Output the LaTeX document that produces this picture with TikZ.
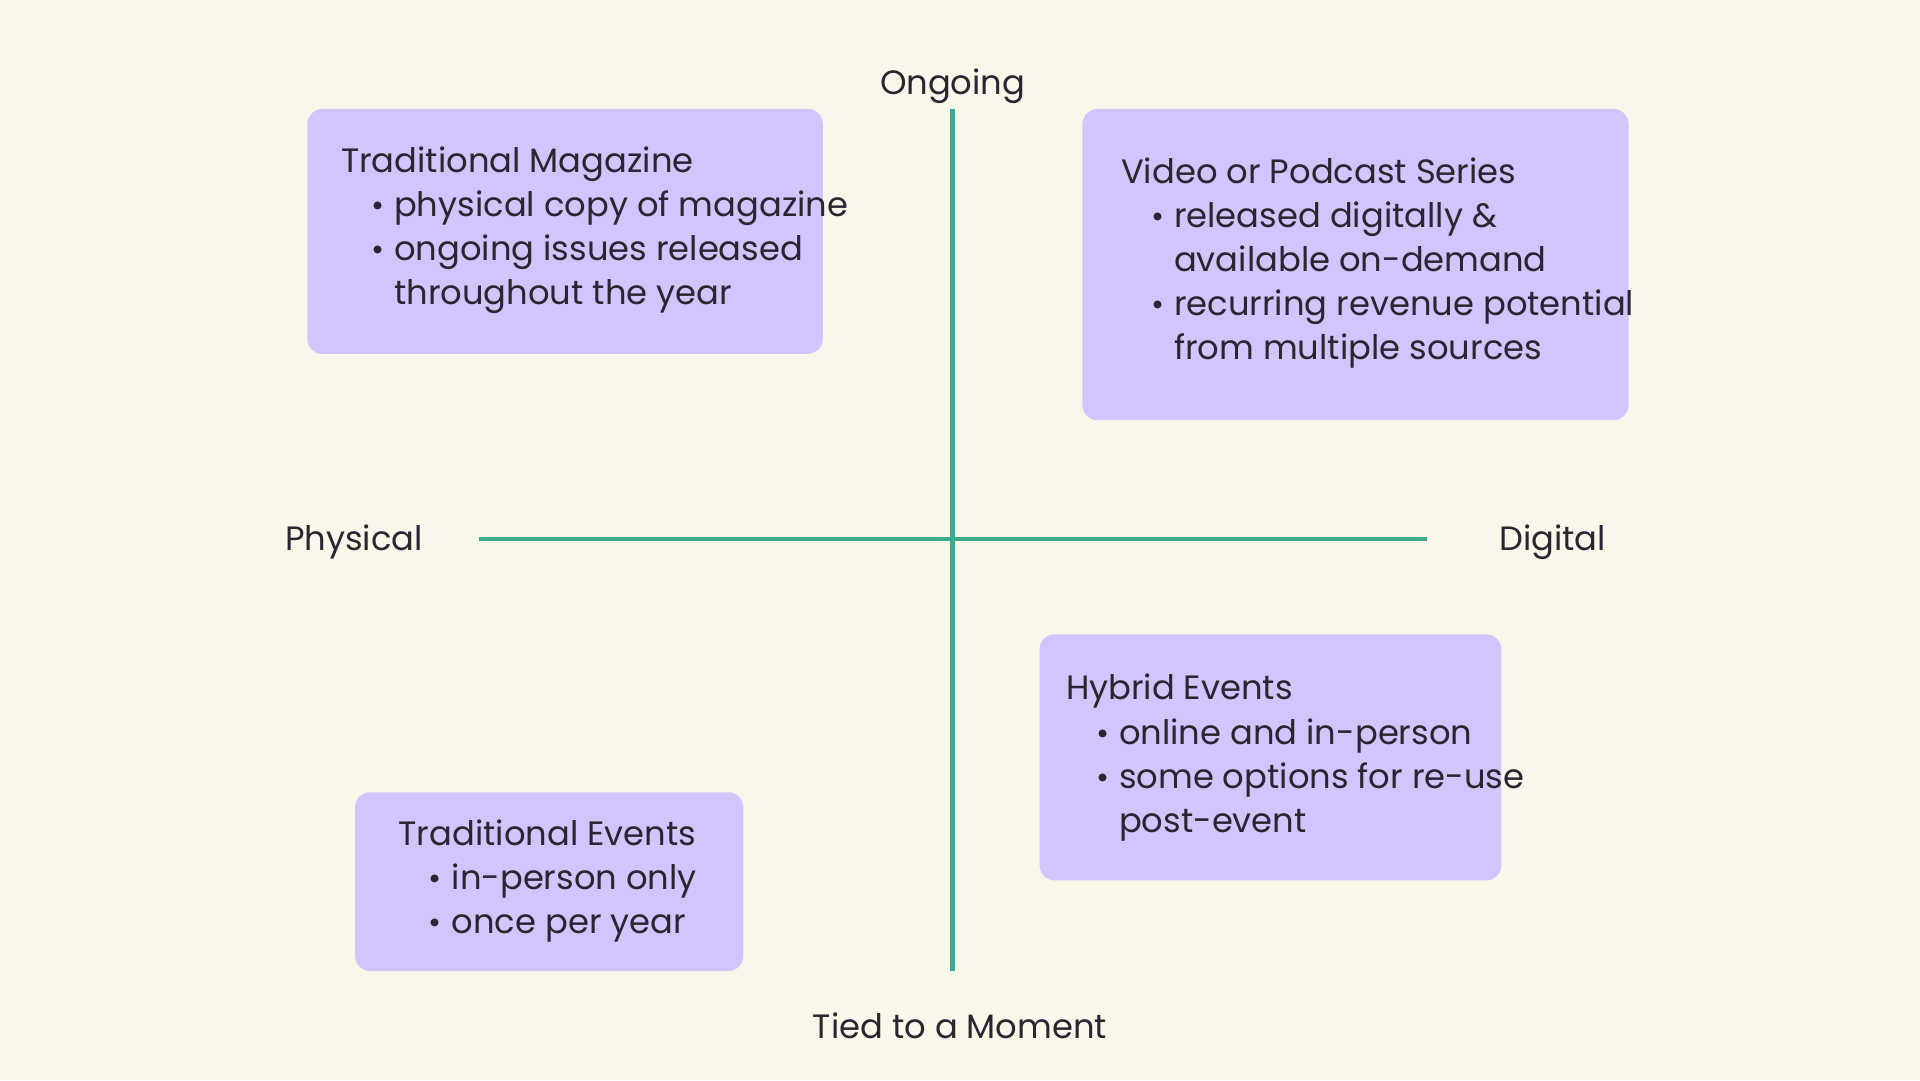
\documentclass[tikz,border=0pt]{standalone}
\usepackage{fontspec}
\setmainfont{Poppins}
\definecolor{bgcol}{HTML}{F9F7E9}
\definecolor{boxcol}{HTML}{D2C4FD}
\definecolor{axiscol}{HTML}{3AAA8C}
\definecolor{inkcol}{HTML}{2A2530}
\newcommand{\itm}[1]{\hspace*{0.3cm}\makebox[0.23cm][l]{\small\textbullet}#1}
\newcommand{\cnt}[1]{\hspace*{0.53cm}#1}
\begin{document}
\begin{tikzpicture}[x=0.012245cm, y=-0.012245cm,
	box/.style={fill=boxcol, rounded corners=0.15cm},
	txt/.style={anchor=north west, inner sep=0, align=left, text=inkcol, font=\fontsize{9.6}{12.55}\selectfont},
	lbl/.style={text=inkcol, font=\fontsize{9.6}{12}\selectfont},
	axis/.style={draw=axiscol, line width=1.3pt}]

	\fill[bgcol] (0,0) rectangle (1568,882);

	% Quadrant boxes
	\fill[box] (251,89) rectangle (672,289);
	\fill[box] (884,89) rectangle (1330,343);
	\fill[box] (849,518) rectangle (1226,719);
	\fill[box] (290,647) rectangle (607,793);

	% Axes
	\coordinate (top) at (778,89);
	\coordinate (bottom) at (778,793);
	\coordinate (left) at (391,440);
	\coordinate (right) at (1165,440);
	\draw[axis] (top) -- (bottom);
	\draw[axis] (left) -- (right);

	% Axis labels
	\node[lbl] (ongoing) at (778,70) {Ongoing};
	\node[lbl] (physical) at (289,443) {Physical};
	\node[lbl] (digital) at (1268,443) {Digital};
	\node[lbl] (moment) at (784,838) {Tied to a Moment};

	% Box texts
	\node[txt] (magazine) at (278,119) {Traditional Magazine\\
		\itm{physical copy of magazine}\\
		\itm{ongoing issues released}\\
		\cnt{throughout the year}};
	\node[txt] (series) at (915,128) {Video or Podcast Series\\
		\itm{released digitally \&}\\
		\cnt{available on-demand}\\
		\itm{recurring revenue potential}\\
		\cnt{from multiple sources}};
	\node[txt] (hybrid) at (870,550) {Hybrid Events\\
		\itm{online and in-person}\\
		\itm{some options for re-use}\\
		\cnt{post-event}};
	\node[txt] (events) at (325,669) {Traditional Events\\
		\itm{in-person only}\\
		\itm{once per year}};
\end{tikzpicture}
\end{document}
